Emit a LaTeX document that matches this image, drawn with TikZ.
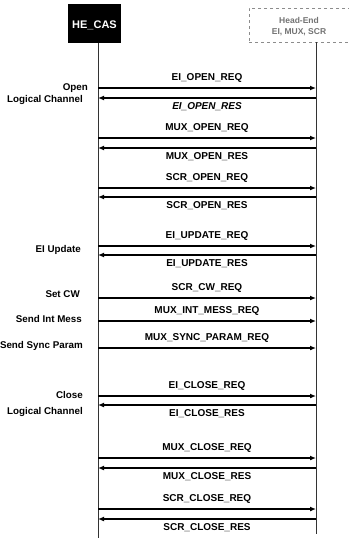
\documentclass[tikz,border=0pt]{standalone}
\usepackage{fontspec}
\setmainfont{Liberation Sans}
\usetikzlibrary{arrows.meta}
\begin{document}
\begin{tikzpicture}[x=1pt,y=-1pt,
  lifeline/.style={draw=black!80, line width=0.9pt},
  req/.style={draw=black, line width=2pt, -{Latex[length=6pt,width=5pt]}},
  res/.style={draw=black, line width=2pt, {Latex[length=6pt,width=5pt]}-},
  lbl/.style={font=\fontsize{10}{11}\selectfont\bfseries, inner sep=0pt},
  side/.style={font=\fontsize{9.8}{11}\selectfont\bfseries, inner sep=0pt, anchor=east}]
\useasboundingbox (0,0) rectangle (348,538);
% actors
\node[fill=black, minimum width=53pt, minimum height=39pt, inner sep=0pt] (hecas) at (94.5,23) {};
\node[anchor=west, text=white, font=\fontsize{11}{12}\selectfont\bfseries, inner sep=0pt] (hecast) at (72,25) {HE\_CAS};
\node[draw=black!45, dashed, fill=white, minimum width=100pt, minimum height=34pt, inner sep=0pt] (srv) at (299,25) {};
\node[text=black!55, font=\fontsize{8.5}{11}\selectfont\bfseries, align=center, inner sep=0pt] (srvt) at (299,27) {Head-End\\EI, MUX, SCR};
% lifelines
\coordinate (Lbot) at (98,538);
\coordinate (Rbot) at (316,534);
\coordinate (Ltop) at (98,43);
\coordinate (Rtop) at (316,42);
\draw[lifeline] (Ltop) -- (Lbot);
\draw[lifeline] (Rtop) -- (Rbot);
% messages
\foreach \n/\y/\t/\s in {
  a/88/EI\_OPEN\_REQ/req,
  c/138/MUX\_OPEN\_REQ/req,
  e/188/SCR\_OPEN\_REQ/req,
  g/246/EI\_UPDATE\_REQ/req,
  i/298/SCR\_CW\_REQ/req,
  j/321/MUX\_INT\_MESS\_REQ/req,
  k/348/MUX\_SYNC\_PARAM\_REQ/req,
  l/396/EI\_CLOSE\_REQ/req,
  n/458/MUX\_CLOSE\_REQ/req,
  p/509/SCR\_CLOSE\_REQ/req}{
  \coordinate (L\n) at (98,\y);
  \coordinate (R\n) at (316,\y);
  \draw[\s] (L\n) -- (R\n) node[lbl, midway, above=5pt] {\t};
}
\foreach \n/\y/\t/\s in {
  b/98/\itshape EI\_OPEN\_RES/res,
  d/148/MUX\_OPEN\_RES/res,
  f/197/SCR\_OPEN\_RES/res,
  h/255/EI\_UPDATE\_RES/res,
  m/405/EI\_CLOSE\_RES/res,
  o/468/MUX\_CLOSE\_RES/res,
  q/519/SCR\_CLOSE\_RES/res}{
  \coordinate (L\n) at (98,\y);
  \coordinate (R\n) at (316,\y);
  \draw[\s] (L\n) -- (R\n) node[lbl, midway, below=4pt] {\t};
}
% side labels
\node[side] (s1) at (88,88) {Open};
\node[side] (s2) at (83,100) {Logical Channel};
\node[side] (s3) at (81,250) {EI Update};
\node[side] (s4) at (80,294) {Set CW};
\node[side] (s5) at (82,319) {Send Int Mess};
\node[side] (s6) at (83,346) {Send Sync Param};
\node[side] (s7) at (83,395) {Close};
\node[side] (s8) at (83,412) {Logical Channel};
\end{tikzpicture}
\end{document}
